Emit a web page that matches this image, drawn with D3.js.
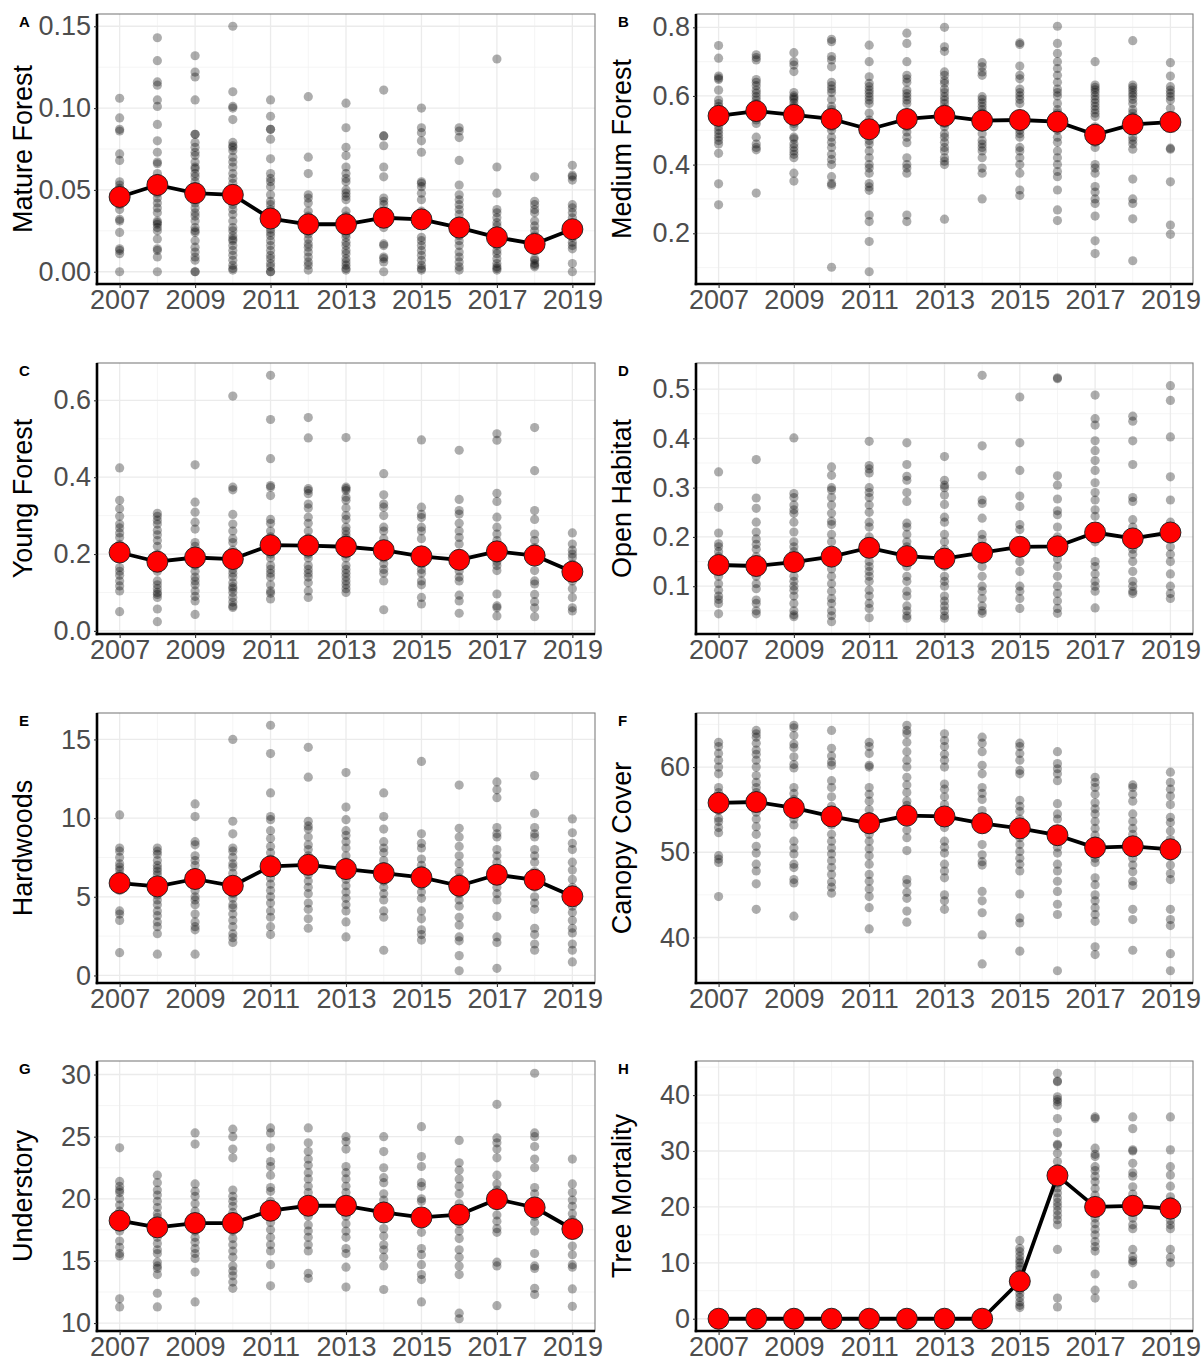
<!DOCTYPE html>
<html>
<head>
<meta charset="utf-8">
<script src="https://cdn.jsdelivr.net/npm/d3@7"></script>
<style>
  body { margin: 0; background: #fff; }
  svg { display: block; }
</style>
</head>
<body>
<div id="chart"></div>
<script>
// survey years (x categories)
const years = [2007, 2008, 2009, 2010, 2011, 2012, 2013, 2014, 2015, 2016, 2017, 2018, 2019];
const yearTicks = [2007, 2009, 2011, 2013, 2015, 2017, 2019];

// A - Mature Forest: one list of plot values per year
const matureForest = [
  [0.106,0.094,0.087,0.086,0.072,0.068,0.055,0.053,0.051,0.049,0.047,0.044,0.041,0.038,0.032,0.031,0.024,0.014,0.013,0.011,0.0],
  [0.143,0.129,0.116,0.114,0.105,0.101,0.090,0.080,0.073,0.067,0.066,0.060,0.057,0.054,0.052,0.048,0.045,0.042,0.039,0.036,0.031,0.030,0.029,0.027,0.025,0.020,0.014,0.013,0.009,0.0],
  [0.132,0.122,0.119,0.105,0.084,0.084,0.079,0.076,0.073,0.071,0.067,0.064,0.063,0.060,0.058,0.055,0.052,0.048,0.045,0.042,0.039,0.036,0.034,0.031,0.027,0.025,0.024,0.019,0.015,0.012,0.009,0.007,0.0,0.0],
  [0.150,0.110,0.101,0.100,0.093,0.079,0.077,0.076,0.074,0.070,0.067,0.064,0.060,0.057,0.054,0.050,0.047,0.044,0.041,0.038,0.035,0.031,0.027,0.025,0.022,0.020,0.019,0.016,0.013,0.010,0.007,0.004,0.002,0.001],
  [0.105,0.095,0.087,0.087,0.081,0.069,0.060,0.057,0.055,0.052,0.047,0.043,0.041,0.038,0.035,0.032,0.029,0.026,0.024,0.022,0.019,0.016,0.013,0.010,0.008,0.005,0.003,0.0,0.0],
  [0.107,0.070,0.060,0.047,0.045,0.042,0.037,0.034,0.031,0.028,0.025,0.023,0.020,0.017,0.015,0.012,0.009,0.006,0.004,0.001],
  [0.103,0.088,0.076,0.071,0.064,0.060,0.057,0.055,0.050,0.048,0.046,0.044,0.037,0.034,0.031,0.028,0.023,0.021,0.018,0.016,0.013,0.011,0.008,0.006,0.004,0.002,0.001],
  [0.111,0.083,0.083,0.077,0.064,0.058,0.045,0.043,0.041,0.037,0.034,0.030,0.027,0.017,0.016,0.009,0.008,0.006,0.0],
  [0.100,0.088,0.085,0.080,0.073,0.055,0.054,0.052,0.048,0.044,0.037,0.034,0.031,0.021,0.019,0.016,0.013,0.010,0.007,0.004,0.002,0.001],
  [0.088,0.086,0.082,0.068,0.053,0.047,0.044,0.041,0.038,0.035,0.031,0.028,0.025,0.022,0.019,0.016,0.012,0.009,0.006,0.003,0.001],
  [0.130,0.064,0.048,0.038,0.036,0.033,0.030,0.028,0.025,0.022,0.019,0.016,0.013,0.011,0.008,0.005,0.003,0.002,0.001],
  [0.058,0.043,0.041,0.038,0.036,0.031,0.028,0.025,0.022,0.019,0.016,0.008,0.007,0.005,0.004,0.003],
  [0.065,0.059,0.058,0.056,0.041,0.039,0.036,0.033,0.026,0.023,0.021,0.018,0.016,0.014,0.005,0.0]
];
const matureForestMean = [0.0457,0.053,0.048,0.047,0.0325,0.029,0.029,0.033,0.032,0.027,0.021,0.017,0.026];

// B - Medium Forest
const mediumForest = [
  [0.747,0.710,0.658,0.652,0.648,0.617,0.588,0.578,0.569,0.559,0.545,0.535,0.51,0.50,0.49,0.48,0.47,0.46,0.433,0.344,0.283],
  [0.720,0.712,0.705,0.648,0.640,0.630,0.617,0.608,0.598,0.588,0.578,0.55,0.54,0.53,0.52,0.48,0.46,0.45,0.443,0.317],
  [0.726,0.700,0.690,0.671,0.61,0.60,0.595,0.59,0.58,0.57,0.54,0.53,0.52,0.51,0.48,0.475,0.46,0.45,0.44,0.43,0.42,0.375,0.352],
  [0.765,0.758,0.715,0.705,0.685,0.64,0.63,0.62,0.61,0.59,0.57,0.56,0.51,0.50,0.48,0.465,0.45,0.43,0.415,0.40,0.365,0.345,0.34,0.101],
  [0.748,0.700,0.656,0.637,0.627,0.617,0.608,0.598,0.588,0.578,0.55,0.53,0.51,0.49,0.47,0.46,0.44,0.42,0.40,0.39,0.375,0.345,0.335,0.325,0.253,0.234,0.176,0.088],
  [0.783,0.753,0.700,0.66,0.65,0.64,0.617,0.607,0.598,0.588,0.578,0.55,0.54,0.51,0.495,0.48,0.464,0.42,0.40,0.39,0.375,0.253,0.234],
  [0.800,0.743,0.730,0.67,0.66,0.645,0.637,0.62,0.61,0.598,0.588,0.578,0.565,0.52,0.51,0.49,0.48,0.465,0.45,0.44,0.42,0.41,0.40,0.241],
  [0.697,0.685,0.67,0.66,0.598,0.59,0.58,0.57,0.56,0.55,0.51,0.49,0.47,0.46,0.45,0.44,0.42,0.39,0.375,0.300],
  [0.755,0.750,0.687,0.66,0.65,0.62,0.61,0.60,0.59,0.578,0.51,0.50,0.49,0.48,0.45,0.44,0.42,0.40,0.375,0.326,0.31],
  [0.803,0.753,0.724,0.70,0.68,0.66,0.64,0.62,0.61,0.60,0.578,0.56,0.55,0.52,0.50,0.48,0.465,0.44,0.42,0.40,0.38,0.365,0.326,0.268,0.237],
  [0.700,0.632,0.625,0.618,0.61,0.60,0.59,0.58,0.57,0.56,0.55,0.54,0.51,0.50,0.48,0.465,0.45,0.40,0.39,0.375,0.336,0.32,0.30,0.287,0.25,0.178,0.141],
  [0.761,0.632,0.625,0.617,0.608,0.6,0.59,0.578,0.56,0.55,0.54,0.48,0.47,0.46,0.445,0.358,0.30,0.287,0.242,0.120],
  [0.697,0.658,0.627,0.617,0.608,0.598,0.588,0.564,0.54,0.52,0.448,0.445,0.350,0.224,0.197]
];
const mediumForestMean = [0.542,0.556,0.545,0.533,0.503,0.533,0.542,0.528,0.530,0.525,0.487,0.517,0.524];

// C - Young Forest
const youngForest = [
  [0.424,0.340,0.318,0.298,0.278,0.268,0.255,0.243,0.225,0.21,0.195,0.165,0.155,0.145,0.13,0.117,0.104,0.05],
  [0.306,0.298,0.288,0.278,0.262,0.25,0.235,0.22,0.2,0.19,0.175,0.165,0.155,0.13,0.12,0.11,0.1,0.095,0.087,0.057,0.024],
  [0.432,0.335,0.309,0.283,0.265,0.23,0.22,0.2,0.19,0.17,0.155,0.14,0.13,0.12,0.104,0.09,0.078,0.043],
  [0.611,0.374,0.367,0.303,0.278,0.26,0.24,0.23,0.21,0.195,0.174,0.16,0.15,0.14,0.125,0.115,0.11,0.1,0.087,0.075,0.065,0.061],
  [0.665,0.550,0.448,0.378,0.374,0.352,0.29,0.28,0.26,0.245,0.23,0.2,0.19,0.17,0.16,0.15,0.14,0.12,0.104,0.098,0.083],
  [0.555,0.502,0.370,0.365,0.357,0.33,0.32,0.296,0.28,0.26,0.242,0.226,0.215,0.2,0.19,0.17,0.16,0.15,0.14,0.125,0.104,0.087],
  [0.503,0.374,0.37,0.365,0.348,0.34,0.32,0.3,0.29,0.27,0.26,0.25,0.24,0.22,0.2,0.19,0.17,0.16,0.15,0.14,0.13,0.12,0.11,0.1],
  [0.409,0.354,0.33,0.322,0.3,0.27,0.26,0.24,0.2,0.19,0.175,0.16,0.15,0.13,0.055],
  [0.497,0.322,0.303,0.295,0.27,0.26,0.24,0.2,0.183,0.174,0.16,0.15,0.13,0.12,0.087,0.07],
  [0.470,0.342,0.313,0.304,0.28,0.26,0.243,0.226,0.2,0.19,0.156,0.14,0.13,0.093,0.078,0.046],
  [0.513,0.496,0.358,0.337,0.296,0.27,0.252,0.235,0.2,0.19,0.18,0.17,0.157,0.096,0.065,0.06,0.039],
  [0.529,0.417,0.313,0.29,0.252,0.235,0.217,0.19,0.157,0.13,0.122,0.095,0.076,0.06,0.037],
  [0.255,0.226,0.21,0.2,0.191,0.174,0.13,0.11,0.087,0.06,0.052]
];
const youngForestMean = [0.204,0.180,0.191,0.187,0.223,0.222,0.219,0.210,0.194,0.185,0.207,0.196,0.154];

// D - Open Habitat
const openHabitat = [
  [0.332,0.260,0.208,0.186,0.18,0.17,0.16,0.15,0.12,0.105,0.092,0.08,0.073,0.065,0.044],
  [0.357,0.279,0.258,0.23,0.21,0.196,0.185,0.175,0.16,0.14,0.12,0.105,0.095,0.072,0.065,0.05,0.044],
  [0.401,0.288,0.28,0.265,0.255,0.248,0.23,0.21,0.19,0.18,0.17,0.155,0.14,0.12,0.11,0.1,0.092,0.08,0.065,0.05,0.042,0.038],
  [0.342,0.325,0.300,0.295,0.28,0.265,0.248,0.232,0.225,0.205,0.19,0.17,0.15,0.135,0.12,0.105,0.09,0.075,0.065,0.05,0.04,0.028],
  [0.394,0.345,0.338,0.330,0.3,0.29,0.28,0.265,0.25,0.23,0.22,0.2,0.19,0.17,0.15,0.14,0.13,0.12,0.11,0.092,0.08,0.065,0.055,0.036],
  [0.391,0.347,0.323,0.315,0.29,0.272,0.228,0.22,0.205,0.19,0.18,0.17,0.15,0.14,0.12,0.11,0.09,0.08,0.06,0.05,0.04,0.035],
  [0.363,0.315,0.305,0.30,0.285,0.266,0.24,0.23,0.205,0.19,0.175,0.16,0.14,0.12,0.11,0.1,0.08,0.07,0.06,0.05,0.04,0.035],
  [0.528,0.385,0.324,0.275,0.268,0.238,0.205,0.195,0.18,0.16,0.14,0.12,0.1,0.09,0.075,0.06,0.05,0.045],
  [0.484,0.391,0.335,0.283,0.262,0.225,0.215,0.19,0.17,0.15,0.13,0.1,0.09,0.075,0.055],
  [0.523,0.521,0.324,0.305,0.277,0.253,0.245,0.22,0.2,0.18,0.155,0.14,0.12,0.1,0.085,0.07,0.055,0.045],
  [0.488,0.44,0.427,0.395,0.375,0.355,0.335,0.31,0.29,0.275,0.255,0.242,0.215,0.19,0.15,0.14,0.125,0.11,0.1,0.09,0.056],
  [0.445,0.435,0.395,0.347,0.28,0.272,0.235,0.22,0.175,0.165,0.15,0.13,0.11,0.1,0.09,0.085],
  [0.507,0.477,0.403,0.322,0.275,0.23,0.22,0.2,0.18,0.165,0.15,0.125,0.1,0.085,0.075]
];
const openHabitatMean = [0.143,0.141,0.149,0.160,0.178,0.161,0.156,0.168,0.180,0.181,0.209,0.197,0.209];

// E - Hardwoods
const hardwoods = [
  [10.2,8.1,7.9,7.5,7.1,6.9,6.7,6.4,6.0,5.7,5.4,4.1,3.9,3.5,1.45],
  [8.1,7.9,7.7,7.3,7.0,6.8,6.6,6.4,6.0,5.7,5.4,5.1,4.8,4.5,4.1,3.8,3.4,3.1,2.65,1.35],
  [10.9,10.1,8.5,8.3,7.6,7.3,7.0,6.5,6.1,5.4,5.0,4.8,4.5,3.9,3.4,3.1,2.9,1.35],
  [15.0,9.8,9.0,8.1,7.9,7.5,7.1,6.9,6.5,5.6,5.2,4.9,4.5,4.3,3.9,3.5,3.1,2.65,2.4,2.1],
  [15.9,14.1,11.6,10.1,9.9,9.2,8.7,8.2,7.8,7.4,7.0,6.6,6.2,5.8,5.4,5.0,4.6,4.1,3.7,3.1,2.6],
  [14.5,12.6,9.8,9.5,9.3,8.8,8.3,8.0,7.6,7.2,6.8,6.4,6.0,5.6,5.2,4.6,4.2,3.6,3.0],
  [12.9,10.7,9.9,9.2,8.9,8.5,8.1,7.6,7.2,6.8,6.5,6.1,5.7,5.3,4.9,4.5,4.1,3.4,2.45],
  [11.6,10.1,9.3,8.5,8.1,7.8,7.3,6.9,6.5,6.0,5.6,5.2,4.8,4.1,3.7,1.6],
  [13.6,9.0,8.4,8.1,7.4,7.0,6.7,6.2,5.7,5.3,4.9,4.1,3.6,2.9,2.6,2.25],
  [12.1,9.35,8.8,8.2,7.6,7.1,6.6,6.2,5.8,5.2,4.8,4.4,3.7,3.2,2.45,2.2,1.26,0.3],
  [12.3,11.8,11.3,9.4,9.0,8.8,8.0,7.6,7.2,6.6,6.2,5.6,5.2,4.8,3.75,2.45,2.1,0.45],
  [12.7,10.3,9.4,9.0,8.8,8.0,7.6,7.2,6.6,6.2,5.6,5.0,4.6,4.2,3.0,2.6,2.0,1.6],
  [9.95,9.07,8.4,8.0,7.2,6.7,6.1,5.6,5.0,4.4,4.0,3.5,3.0,2.7,2.0,1.6,0.86]
];
const hardwoodsMean = [5.87,5.66,6.13,5.70,6.93,7.03,6.76,6.50,6.23,5.70,6.40,6.08,5.03];

// F - Canopy Cover
const canopyCover = [
  [62.9,62.4,61.6,60.8,60.0,59.2,57.6,57.0,56.5,54.9,54.0,53.6,52.9,52.3,49.6,49.2,48.8,44.8],
  [64.3,63.9,63.5,62.8,62.0,61.5,60.8,60.0,59.0,58.2,57.6,57.0,56.3,55.5,54.7,53.9,53.0,52.1,50.7,49.9,48.6,47.8,46.3,43.3],
  [64.9,64.6,63.7,62.7,62.3,61.2,60.3,59.9,57.6,56.9,56.2,55.5,54.6,53.9,53.2,51.3,50.5,49.8,48.6,48.2,46.8,46.4,42.5],
  [64.3,62.2,61.3,60.6,60.2,58.4,57.6,56.5,55.4,54.2,53.2,52.1,51.3,50.5,49.8,49.0,48.2,47.4,46.5,45.9,45.2],
  [62.9,62.4,61.6,60.2,60.0,57.6,56.8,56.0,55.0,54.2,53.2,52.1,51.3,50.4,49.6,48.6,47.4,46.6,45.7,44.8,43.5,41.0],
  [64.9,64.3,63.9,62.9,61.8,60.8,60.0,58.8,57.9,57.0,56.0,55.5,54.8,52.6,51.7,50.2,46.8,46.3,45.3,44.6,43.1,41.8],
  [63.9,63.1,62.4,61.5,60.8,60.0,58.0,57.4,56.5,55.6,54.8,53.9,52.9,51.3,50.6,49.9,48.6,47.8,47.0,45.0,44.3,43.3],
  [63.5,62.8,61.8,60.2,59.2,57.6,56.9,56.2,54.9,53.9,52.9,50.9,49.7,48.9,48.5,45.4,44.3,42.9,40.3,36.9],
  [62.8,62.4,61.6,60.8,59.6,59.2,56.1,55.4,54.8,53.9,52.9,51.7,50.9,50.1,49.3,48.6,47.8,45.1,42.3,41.7,38.4],
  [61.8,60.4,59.8,59.2,58.4,55.7,54.5,53.9,52.1,51.3,50.6,49.9,48.6,47.8,46.6,45.4,43.9,42.7,36.1],
  [58.8,58.2,57.6,56.8,55.8,55.1,54.5,53.6,52.8,52.0,51.3,49.9,49.3,48.8,47.0,46.2,45.0,44.3,43.5,42.7,41.9,38.9,38.0],
  [57.9,57.6,56.8,56.0,54.5,53.6,52.8,52.1,50.5,49.3,48.5,47.7,46.6,46.1,43.3,42.1,38.5],
  [59.4,58.2,57.4,56.6,55.6,54.1,53.5,52.5,51.5,49.5,48.5,47.5,46.8,43.3,42.1,41.4,38.1,36.1]
];
const canopyCoverMean = [55.8,55.9,55.2,54.2,53.4,54.3,54.2,53.4,52.8,52.0,50.55,50.7,50.35];

// G - Understory
const understory = [
  [24.1,21.4,21.0,20.7,20.5,20.0,19.5,19.0,18.6,17.9,17.4,16.6,16.1,15.6,15.4,11.95,11.3],
  [21.9,21.3,20.7,20.3,19.8,19.3,18.8,18.5,18.0,17.4,16.9,16.4,15.9,15.6,14.9,14.6,14.4,13.9,12.4,11.3],
  [25.3,24.4,21.2,20.6,20.2,19.6,19.0,18.4,17.9,17.4,16.9,16.5,16.0,15.6,15.2,14.1,11.7],
  [25.6,25.0,24.0,23.3,20.7,20.2,19.8,19.4,18.9,18.1,17.4,16.8,16.3,15.8,15.3,14.6,14.2,13.8,13.3,12.8],
  [25.7,25.3,24.1,23.0,22.6,21.9,20.9,20.6,19.8,19.4,18.6,18.1,17.5,16.9,16.3,15.8,14.7,13.0],
  [25.7,24.5,23.8,23.2,22.7,22.1,21.6,21.0,20.5,19.7,19.1,18.6,17.9,17.4,16.9,16.3,15.8,14.0,13.6],
  [25.0,24.6,24.0,22.6,22.1,21.6,21.0,20.5,19.9,19.3,18.6,18.0,17.4,16.9,16.0,15.6,14.5,12.9],
  [25.0,23.8,22.5,21.7,21.3,20.4,19.9,19.4,18.4,17.6,17.0,16.3,15.9,15.3,14.6,12.7],
  [25.8,23.4,22.6,21.3,21.0,20.0,19.8,18.6,18.1,17.3,16.0,15.5,14.7,13.9,13.5,11.7],
  [24.7,22.9,22.3,21.6,21.0,20.4,19.6,18.8,18.0,17.4,16.8,15.9,15.3,14.6,13.9,10.8,10.35],
  [27.6,24.9,24.5,24.0,23.3,21.9,21.2,20.7,20.0,19.5,18.7,18.2,17.6,17.3,14.9,14.6,11.4],
  [30.1,25.3,25.0,24.2,23.2,22.5,20.9,20.4,19.4,18.6,18.1,17.4,15.6,14.6,14.4,12.8,12.3],
  [23.2,21.2,20.5,19.9,19.4,18.8,18.3,17.3,16.2,15.5,14.7,14.5,12.75,11.35]
];
const understoryMean = [18.24,17.7,18.05,18.05,19.04,19.44,19.44,18.9,18.5,18.72,19.97,19.3,17.57];

// H - Tree Mortality
const treeMortality = [
  [0,0,0,0,0], [0,0,0,0,0], [0,0,0,0,0], [0,0,0,0,0],
  [0,0,0,0,0], [0,0,0,0,0], [0,0,0,0,0], [0,0,0,0,0],
  [14.0,12.6,12.0,11.2,10.5,10.0,9.4,8.8,8.0,7.2,6.4,5.8,5.2,4.5,3.8,3.0,2.4,2.0],
  [43.9,42.5,42.4,39.7,39.2,38.8,38.2,35.8,33.3,31.2,31.0,29.6,28.1,26.9,26.0,25.4,24.2,23.4,22.5,21.6,20.8,20.1,19.3,18.5,17.7,16.8,12.4,3.7,2.1],
  [36.1,35.8,30.5,29.4,29.0,27.2,26.5,25.5,24.5,23.3,22.1,21.0,20.1,19.0,18.0,17.0,16.0,15.0,13.8,12.9,12.1,8.0,5.1,3.7],
  [36.1,34.0,30.2,30.0,27.8,26.1,25.5,23.6,22.3,21.0,20.0,19.0,18.0,16.8,16.1,12.4,11.1,10.4,10.0,6.1],
  [36.1,30.2,27.2,25.7,23.7,21.8,21.0,20.3,19.4,18.5,17.6,16.8,16.1,12.4,11.0,10.0]
];
const treeMortalityMean = [0,0,0,0,0,0,0,0,6.7,25.6,20.0,20.2,19.7];

// panel letters, titles and y tick labels
const panelLetters = ["A", "B", "C", "D", "E", "F", "G", "H"];
const panelTitles = ["Mature Forest", "Medium Forest", "Young Forest", "Open Habitat",
                     "Hardwoods", "Canopy Cover", "Understory", "Tree Mortality"];
const yTickValues = [
  [0, 0.05, 0.10, 0.15], [0.2, 0.4, 0.6, 0.8], [0.0, 0.2, 0.4, 0.6], [0.1, 0.2, 0.3, 0.4, 0.5],
  [0, 5, 10, 15], [40, 50, 60], [10, 15, 20, 25, 30], [0, 10, 20, 30, 40]
];
const yTickLabels = [
  ["0.00", "0.05", "0.10", "0.15"], ["0.2", "0.4", "0.6", "0.8"], ["0.0", "0.2", "0.4", "0.6"],
  ["0.1", "0.2", "0.3", "0.4", "0.5"], ["0", "5", "10", "15"], ["40", "50", "60"],
  ["10", "15", "20", "25", "30"], ["0", "10", "20", "30", "40"]
];
const panelPoints = [matureForest, mediumForest, youngForest, openHabitat, hardwoods, canopyCover, understory, treeMortality];
const panelMeans = [matureForestMean, mediumForestMean, youngForestMean, openHabitatMean, hardwoodsMean, canopyCoverMean, understoryMean, treeMortalityMean];

const width = 1204, height = 1363;
const colX = [[97, 595], [696, 1193]];
const rowY = [[14, 284], [363, 634], [713, 983], [1061, 1331]];
const font = "Arial, 'Liberation Sans', sans-serif";

const svg = d3.select("#chart").append("svg")
    .attr("width", width)
    .attr("height", height)
    .attr("viewBox", [0, 0, width, height]);

svg.append("rect").attr("width", width).attr("height", height).attr("fill", "#fff");

panelTitles.forEach((title, p) => {
    const [x0, x1] = colX[p % 2];
    const [y0, y1] = rowY[Math.floor(p / 2)];
    const pts = panelPoints[p];
    const means = panelMeans[p];

    // ggplot style 5% expansion around the data
    const all = d3.merge(pts).concat(means);
    const [lo, hi] = d3.extent(all);
    const pad = (hi - lo) * 0.05;

    const x = d3.scaleLinear().domain([2006.4, 2019.6]).range([x0, x1]);
    const y = d3.scaleLinear().domain([lo - pad, hi + pad]).range([y1, y0]);

    const g = svg.append("g");

    // minor grid
    const ticks = yTickValues[p];
    const step = ticks[1] - ticks[0];
    const ext = [ticks[0] - step].concat(ticks, [ticks[ticks.length - 1] + step]);
    const yMinor = d3.pairs(ext).map(([a, b]) => (a + b) / 2)
        .filter(v => v > y.domain()[0] && v < y.domain()[1]);
    const xMinor = years.filter(yr => !yearTicks.includes(yr));

    g.append("g").selectAll("line").data(yMinor).join("line")
        .attr("x1", x0).attr("x2", x1)
        .attr("y1", d => y(d)).attr("y2", d => y(d))
        .attr("stroke", "#f2f2f2").attr("stroke-width", 0.8);
    g.append("g").selectAll("line").data(xMinor).join("line")
        .attr("x1", d => x(d)).attr("x2", d => x(d))
        .attr("y1", y0).attr("y2", y1)
        .attr("stroke", "#f2f2f2").attr("stroke-width", 0.8);

    // major grid
    g.append("g").selectAll("line").data(ticks).join("line")
        .attr("x1", x0).attr("x2", x1)
        .attr("y1", d => y(d)).attr("y2", d => y(d))
        .attr("stroke", "#ebebeb").attr("stroke-width", 1.3);
    g.append("g").selectAll("line").data(yearTicks).join("line")
        .attr("x1", d => x(d)).attr("x2", d => x(d))
        .attr("y1", y0).attr("y2", y1)
        .attr("stroke", "#ebebeb").attr("stroke-width", 1.3);

    // raw points
    const flat = [];
    pts.forEach((vals, i) => vals.forEach(v => flat.push({ year: years[i], value: v })));
    g.append("g").selectAll("circle").data(flat).join("circle")
        .attr("cx", d => x(d.year))
        .attr("cy", d => y(d.value))
        .attr("r", 4.6)
        .attr("fill", "#000")
        .attr("fill-opacity", 0.32);

    // mean line and points
    const meanData = means.map((m, i) => ({ year: years[i], value: m }));
    g.append("path")
        .datum(meanData)
        .attr("fill", "none")
        .attr("stroke", "#000")
        .attr("stroke-width", 3.8)
        .attr("stroke-linejoin", "round")
        .attr("d", d3.line().x(d => x(d.year)).y(d => y(d.value)));

    g.append("g").selectAll("circle").data(meanData).join("circle")
        .attr("cx", d => x(d.year))
        .attr("cy", d => y(d.value))
        .attr("r", 10.5)
        .attr("fill", "#ff0000")
        .attr("stroke", "#1a1a1a")
        .attr("stroke-width", 0.9);

    // panel border (top/right grey)
    g.append("rect")
        .attr("x", x0).attr("y", y0)
        .attr("width", x1 - x0).attr("height", y1 - y0)
        .attr("fill", "none")
        .attr("stroke", "#7f7f7f")
        .attr("stroke-width", 1.1);

    // axes
    const yAxis = g.append("g")
        .attr("transform", `translate(${x0},0)`)
        .call(d3.axisLeft(y).tickValues(ticks).tickFormat((d, i) => yTickLabels[p][i]).tickSize(3).tickPadding(3).tickSizeOuter(0));
    const xAxis = g.append("g")
        .attr("transform", `translate(0,${y1})`)
        .call(d3.axisBottom(x).tickValues(yearTicks).tickFormat(d3.format("d")).tickSize(4).tickPadding(2).tickSizeOuter(0));

    [yAxis, xAxis].forEach(ax => {
        ax.select(".domain").attr("stroke", "#000").attr("stroke-width", 2.6);
        ax.selectAll(".tick line").attr("stroke", "#333").attr("stroke-width", 1.1);
        ax.selectAll(".tick text")
            .attr("fill", "#4d4d4d")
            .style("font-family", font)
            .style("font-size", "27px");
    });
    yAxis.select(".domain").attr("d", `M0,${y0}V${y1 + 1.3}`);
    xAxis.select(".domain").attr("d", `M${x0 - 1.3},0H${x1}`);

    // y axis title
    g.append("text")
        .attr("transform", `translate(${x0 - 65},${(y0 + y1) / 2}) rotate(-90)`)
        .attr("text-anchor", "middle")
        .style("font-family", font)
        .style("font-size", "27px")
        .attr("fill", "#000")
        .text(title);

    // panel letter
    g.append("text")
        .attr("x", x0 - 78)
        .attr("y", y0 + 13)
        .style("font-family", font)
        .style("font-size", "15px")
        .style("font-weight", "bold")
        .attr("fill", "#000")
        .text(panelLetters[p]);
});
</script>
</body>
</html>
